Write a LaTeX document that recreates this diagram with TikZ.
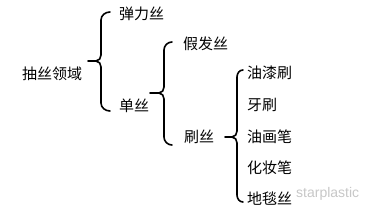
\documentclass[tikz,border=0pt]{standalone}
\usepackage{fontspec}
\newfontfamily\cjk{Noto Sans CJK SC}
\setsansfont{Liberation Sans}
\begin{document}
\begin{tikzpicture}[x=1pt,y=-1pt,
  lbl/.style={anchor=west,inner sep=0pt,font=\cjk\fontsize{15}{15}\selectfont,text=black},
  brace/.style={line width=1.6pt,black,line cap=round}]
\useasboundingbox (0,0) rectangle (370,216);
% labels
\node[lbl] (root) at (22,74) {抽丝领域};
\node[lbl] (tanli) at (119,14) {弹力丝};
\node[lbl] (dansi) at (119,106) {单丝};
\node[lbl] (jiafa) at (183,44) {假发丝};
\node[lbl] (shuasi) at (184,137) {刷丝};
\node[lbl] (youqi) at (247,73) {油漆刷};
\node[lbl] (yashua) at (247,105) {牙刷};
\node[lbl] (youhua) at (247,137) {油画笔};
\node[lbl] (huazhuang) at (247,168) {化妆笔};
\node[lbl] (ditan) at (247,199) {地毯丝};
% watermark
\node[anchor=west,inner sep=0pt,font=\sffamily\fontsize{14}{14}\selectfont,text=black!22] (wm) at (296,194) {starplastic};
% brace coordinates
\coordinate (b1t) at (88,61);
\coordinate (b2t) at (150,93);
\coordinate (b3t) at (225,137);
% brace 1
\draw[brace] (110,12) to[out=180,in=90] (101,20) -- (101,55) to[out=-90,in=0] (96,61) to[out=0,in=90] (101,67) -- (101,103) to[out=-90,in=180] (110,111);
\draw[brace] (96,61) -- (b1t);
% brace 2
\draw[brace] (172,42) to[out=180,in=90] (164,50) -- (164,87) to[out=-90,in=0] (159,93) to[out=0,in=90] (164,99) -- (164,137) to[out=-90,in=180] (172,145);
\draw[brace] (159,93) -- (b2t);
% brace 3
\draw[brace] (243,70) to[out=180,in=90] (237,77) -- (237,131) to[out=-90,in=0] (232,137) to[out=0,in=90] (237,143) -- (237,195) to[out=-90,in=180] (243,202);
\draw[brace] (232,137) -- (b3t);
\end{tikzpicture}
\end{document}
